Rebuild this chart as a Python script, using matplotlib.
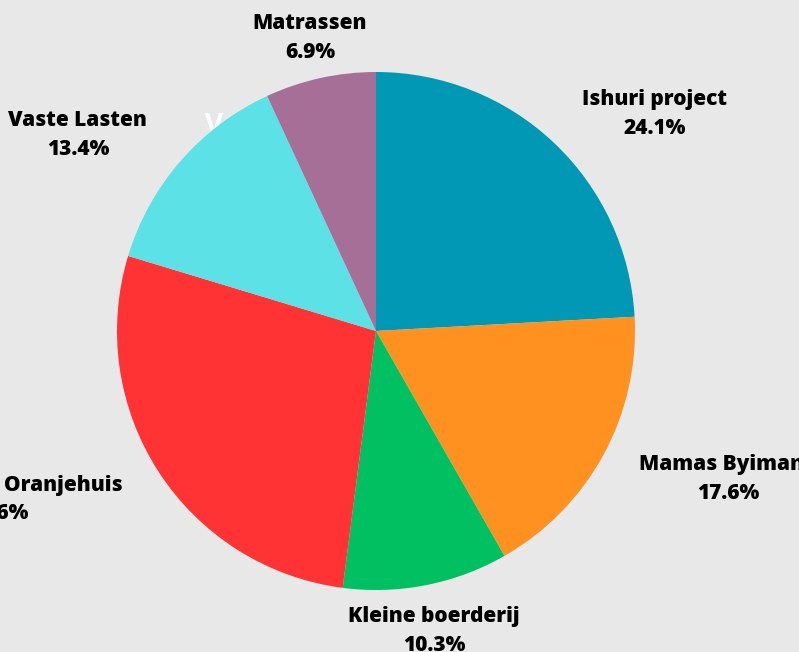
import numpy as np
import matplotlib.pyplot as plt

# data
labels = ['Ishuri project', 'Mamas Byimana', 'Kleine boerderij', 'Oranjehuis',
          'Vaste Lasten', 'Matrassen']
shares = [24.1, 17.6, 10.3, 27.6, 13.4, 6.9]
colors = ['#0098b4', '#ff9121', '#00c062', '#ff3334', '#5ce1e6', '#a66f97']

# label spots in pie-radius units (centre of the 2-line label)
label_pos = [(1.077, 0.838), (1.359, -0.572), (0.224, -1.159),
             (-0.56, -0.6), (-1.151, 0.756), (-0.255, 1.131)]

bg = '#e8e8e8'
fig = plt.figure(figsize=(7.99, 6.52), dpi=100, facecolor=bg)

# pie centre at (376, 331) px, radius 259 px
cx, cy, r = 376, 331, 259
ax = fig.add_axes([(cx - r) / 799, (652 - cy - r) / 652, 2 * r / 799, 2 * r / 652])
ax.axis('off')

ax.pie(shares, colors=colors, startangle=90, counterclock=False,
       radius=1, wedgeprops=dict(linewidth=0))
ax.set_xlim(-1, 1)
ax.set_ylim(-1, 1)

# white title mostly hidden behind the pie
ax.text(-0.66, 0.79, 'V', color='white', fontsize=20, fontweight='bold',
        family='Open Sans', ha='left', va='center', zorder=0)

font = dict(family='Open Sans', fontsize=15, fontweight='heavy', color='black')
for name, val, (x, y) in zip(labels, shares, label_pos):
    if name == 'Oranjehuis':
        # label is cut by the left border
        ax.text(-1.437, -0.597, name, ha='left', va='center', **font)
        ax.text(-1.34, -0.703, f'{val}%', ha='right', va='center', **font)
        continue
    ax.text(x, y, f'{name}\n{val}%', ha='center', va='center',
            linespacing=1.5, **font)

fig.savefig('out.png', dpi=100, facecolor=bg)
